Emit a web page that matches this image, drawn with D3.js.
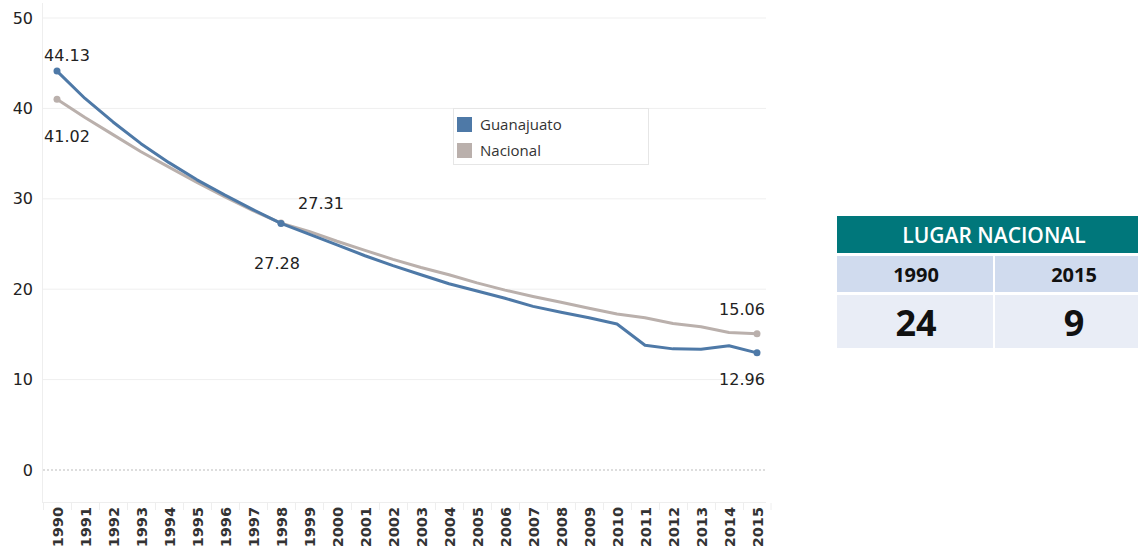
<!DOCTYPE html>
<html>
<head>
<meta charset="utf-8">
<title>Guanajuato vs Nacional</title>
<script src="https://d3js.org/d3.v7.min.js"></script>
<style>
  body { margin: 0; background: #fff; overflow: hidden; }
  svg { display: block; }
</style>
</head>
<body>
<script>
// data
const years = d3.range(1990, 2016);
const guanajuato = [44.13, 41.1, 38.5, 36.1, 34.0, 32.1, 30.4, 28.8, 27.28, 26.1, 24.9, 23.7, 22.6, 21.6, 20.6, 19.8, 19.0, 18.1, 17.45, 16.85, 16.15, 13.8, 13.4, 13.35, 13.75, 12.96];
const nacional = [41.02, 39.0, 37.1, 35.2, 33.5, 31.8, 30.2, 28.7, 27.31, 26.4, 25.3, 24.3, 23.3, 22.4, 21.6, 20.7, 19.9, 19.2, 18.55, 17.9, 17.25, 16.85, 16.2, 15.85, 15.2, 15.06];
const seriesNames = ["Guanajuato", "Nacional"];
const seriesColors = ["#4e79a7", "#bab0ac"];
const yTicks = [0, 10, 20, 30, 40, 50];
const labelYears = [1990, 1998, 2015];
const tableTitle = "LUGAR NACIONAL";
const tableYears = ["1990", "2015"];
const tableRanks = ["24", "9"];

const w = 1138, h = 550;
const svg = d3.select("body").append("svg").attr("width", w).attr("height", h);

const x = d3.scaleBand().domain(years).range([43, 771]);
const y = d3.scaleLinear().domain([0, 50]).range([470, 18]);
const cx = d => x(d) + x.bandwidth() / 2;

// gridlines
svg.append("g").selectAll("line").data(yTicks.filter(d => d !== 0)).enter().append("line")
  .attr("x1", 43).attr("x2", 766)
  .attr("y1", d => y(d)).attr("y2", d => y(d))
  .attr("stroke", "#efefef").attr("stroke-width", 1);
svg.append("line")
  .attr("x1", 43).attr("x2", 766).attr("y1", y(0)).attr("y2", y(0))
  .attr("stroke", "#bbb").attr("stroke-dasharray", "2,2");

// axis frame lines
svg.append("line").attr("x1", 42.5).attr("x2", 42.5).attr("y1", 3).attr("y2", 503)
  .attr("stroke", "#eee");
svg.append("line").attr("x1", 42).attr("x2", 766).attr("y1", 502.5).attr("y2", 502.5)
  .attr("stroke", "#eee");

// y axis labels
const yAxis = d3.axisLeft(y).tickValues(yTicks).tickSize(0).tickPadding(10);
const gy = svg.append("g").attr("transform", "translate(43,0)").call(yAxis);
gy.select(".domain").remove();
gy.selectAll("text").attr("font-family", "DejaVu Sans").attr("font-size", 16)
  .attr("fill", "#222");

// x axis
const xAxis = d3.axisBottom(x).tickSize(0).tickPadding(0);
const gx = svg.append("g").attr("transform", "translate(0,503)").call(xAxis);
gx.select(".domain").remove();
gx.selectAll("text")
  .attr("font-family", "DejaVu Sans").attr("font-size", 14.5).attr("font-weight", "bold")
  .attr("fill", "#333")
  .attr("text-anchor", "end")
  .attr("dy", null)
  .attr("transform", "translate(5.5,4) rotate(-90)");
svg.append("g").selectAll("line").data(years.concat([2016])).enter().append("line")
  .attr("x1", d => d === 2016 ? 771 : x(d) + 0.5).attr("x2", d => d === 2016 ? 771 : x(d) + 0.5)
  .attr("y1", 503).attr("y2", 510)
  .attr("stroke", "#eee");

// lines
const series = [guanajuato, nacional];
const line = d3.line().x((d, i) => cx(years[i])).y(d => y(d));
// draw Nacional first, then Guanajuato on top
[1, 0].forEach(k => {
  svg.append("path").datum(series[k])
    .attr("d", line)
    .attr("fill", "none")
    .attr("stroke", seriesColors[k])
    .attr("stroke-width", 3)
    .attr("stroke-linejoin", "round");
  svg.append("g").selectAll("circle").data(labelYears).enter().append("circle")
    .attr("cx", d => cx(d))
    .attr("cy", d => y(series[k][years.indexOf(d)]))
    .attr("r", 3.5)
    .attr("fill", seriesColors[k]);
});

// value labels
const labels = [
  { yr: 1990, s: 0, dx: 10, dy: -10 },
  { yr: 1990, s: 1, dx: 10, dy: 43 },
  { yr: 1998, s: 1, dx: 40, dy: -14 },
  { yr: 1998, s: 0, dx: -4, dy: 46 },
  { yr: 2015, s: 1, dx: -15, dy: -19 },
  { yr: 2015, s: 0, dx: -15, dy: 32 }
];
svg.append("g").selectAll("text").data(labels).enter().append("text")
  .attr("x", d => cx(d.yr) + d.dx)
  .attr("y", d => y(series[d.s][years.indexOf(d.yr)]) + d.dy)
  .attr("text-anchor", "middle")
  .attr("font-family", "DejaVu Sans").attr("font-size", 16)
  .attr("fill", "#222")
  .text(d => d3.format(".2f")(series[d.s][years.indexOf(d.yr)]));

// legend
const lg = svg.append("g").attr("transform", "translate(453,108)");
lg.append("rect").attr("x", 0.5).attr("y", 0.5).attr("width", 195).attr("height", 56)
  .attr("fill", "#fff").attr("stroke", "#e6e6e6");
lg.selectAll("g.item").data(seriesNames).enter().append("g")
  .attr("transform", (d, i) => "translate(4," + (9 + i * 26) + ")")
  .each(function (d, i) {
    const g = d3.select(this);
    g.append("rect").attr("width", 15).attr("height", 15).attr("fill", seriesColors[i]);
    g.append("text").attr("x", 23).attr("y", 13)
      .attr("font-family", "Open Sans").attr("font-size", 15)
      .attr("fill", "#333").text(d);
  });

// table
const tx = 837, colW = 156;
const tb = svg.append("g");
tb.append("rect").attr("x", tx).attr("y", 216).attr("width", 320).attr("height", 37)
  .attr("fill", "#00777b");
tb.append("text").attr("x", 994).attr("y", 243).attr("text-anchor", "middle")
  .attr("font-family", "Open Sans").attr("font-size", 21).attr("font-weight", 600)
  .attr("fill", "#fff").text(tableTitle);
tableYears.forEach((d, i) => {
  tb.append("rect").attr("x", tx + i * (colW + 2)).attr("y", 256)
    .attr("width", colW).attr("height", 36).attr("fill", "#d0dbee");
  tb.append("text").attr("x", tx + i * (colW + 2) + colW / 2 + 1).attr("y", 282)
    .attr("text-anchor", "middle").attr("font-family", "Open Sans")
    .attr("font-weight", "bold").attr("font-size", 20).attr("fill", "#111").text(d);
  tb.append("rect").attr("x", tx + i * (colW + 2)).attr("y", 295)
    .attr("width", colW).attr("height", 53).attr("fill", "#e9edf6");
  tb.append("text").attr("x", tx + i * (colW + 2) + colW / 2 + 1).attr("y", 336)
    .attr("text-anchor", "middle").attr("font-family", "Open Sans")
    .attr("font-weight", "bold").attr("font-size", 36).attr("fill", "#111").text(tableRanks[i]);
});
</script>
</body>
</html>
